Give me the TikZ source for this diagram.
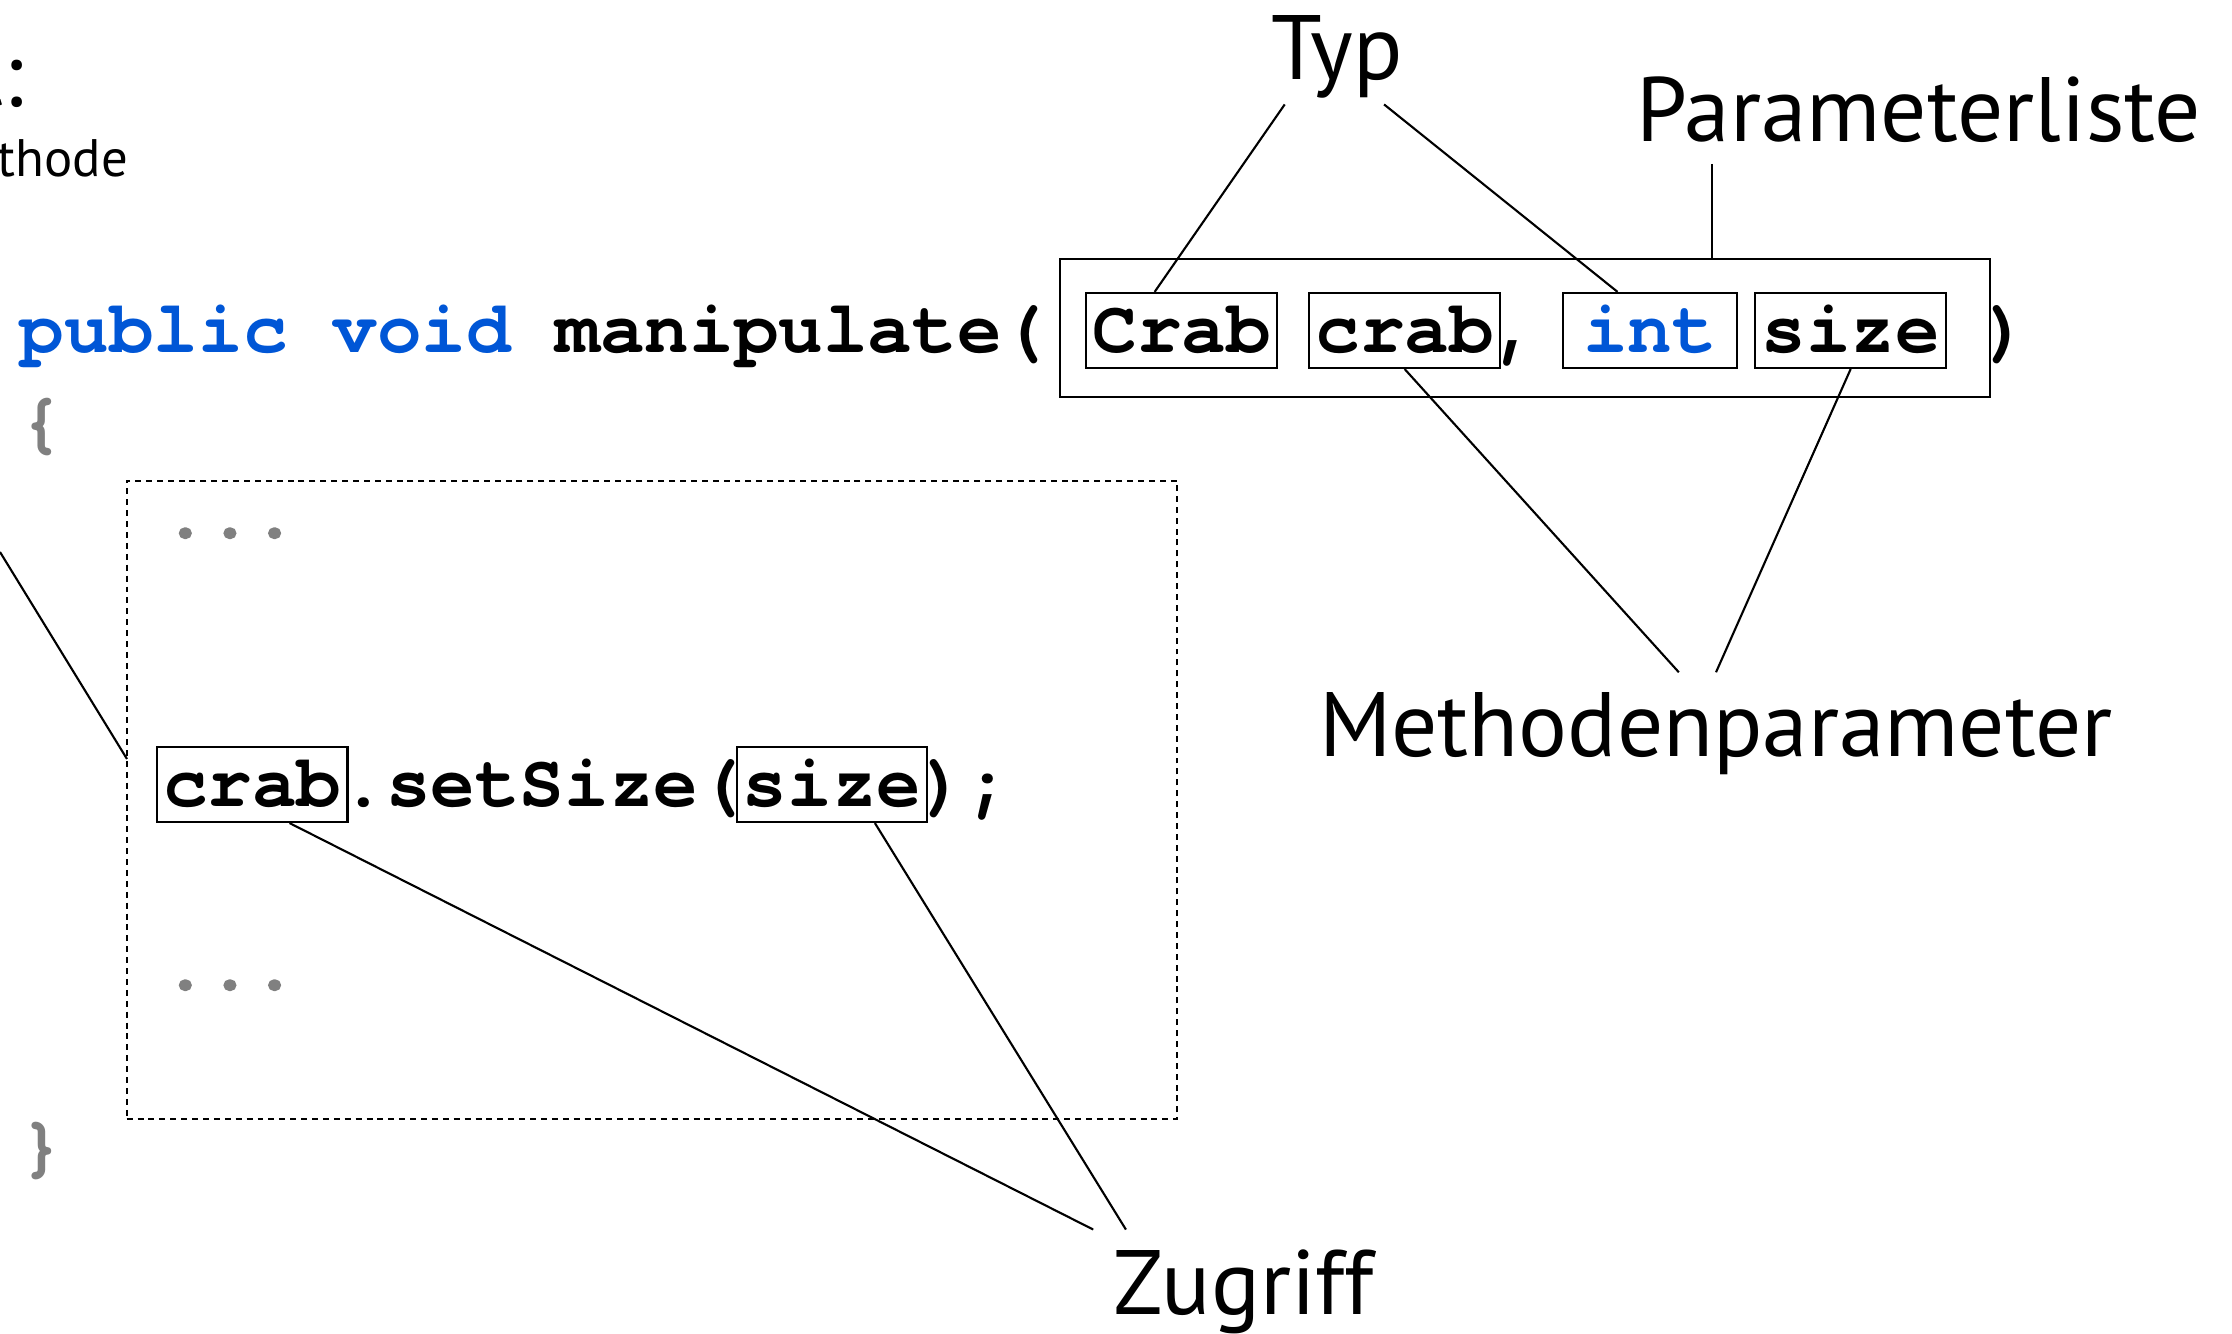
\documentclass[tikz,border=0pt]{standalone}
\usepackage{fontspec}
\usepackage{xcolor}
\usepackage{tikz}
\usetikzlibrary{positioning}
\setmainfont{PT Sans}
\newfontfamily\codefont{texgyrecursor-bold.otf}
\newfontfamily\dotfont{texgyrecursor-bold.otf}[FakeBold=2.5]
\definecolor{kwblue}{RGB}{0,86,214}
\definecolor{bracegray}{RGB}{128,128,128}
\def\cw{44.6}

\begin{document}
\begin{tikzpicture}[
      x=0.01cm, y=-0.01cm,
      code/.style={font=\codefont\fontsize{21.15pt}{24pt}\selectfont, inner sep=0pt, anchor=text},
      dots/.style={code, font=\dotfont\fontsize{21.15pt}{24pt}\selectfont, text=bracegray},
      pbox/.style={code, draw, line width=0.6pt, inner xsep=0.06cm, inner ysep=0pt, text height=0.6cm, text depth=0.15cm},
      lbl/.style={font=\fontsize{26pt}{30pt}\selectfont, inner sep=0.2cm, anchor=base},
      frame/.style={draw, line width=0.6pt},
      lnk/.style={line width=0.6pt}
    ]
    \useasboundingbox (0,0) rectangle (2232,1334);

    \node[code] (sig) at (20,353) {\textcolor{kwblue}{public void} manipulate(};
    \node[pbox] (crabT) at ({22+24*\cw},353) {Crab};
    \node[pbox] (crabP) at ({22+29*\cw},353) {crab};
    \node[code] (comma) at ({22+33*\cw},353) {,};
    \node[pbox, inner xsep=0.2cm, text=kwblue] (intT) at ({22+35*\cw},353) {int};
    \node[pbox] (sizeP) at ({22+39*\cw},353) {size};
    \node[code] (close) at ({22+44*\cw},353) {)};
    \node[frame, minimum width=9.3cm, minimum height=1.38cm] (plist) at (1525,328) {};

    \node[code, text=bracegray] (open) at (20,445) {\{};
    \node[frame, dash pattern=on 1.7pt off 1.4pt, minimum width=10.5cm, minimum height=6.38cm] (body) at (652,800) {};
    \node[dots] (dotsA) at (163,537) {...};
    \node[pbox] (crabL) at (163,807) {crab};
    \node[code] (call) at ({163+4*\cw},807) {.setSize(};
    \node[pbox] (sizeL) at ({163+13*\cw},807) {size};
    \node[code] (semi) at ({163+17*\cw},807) {);};
    \node[dots] (dotsB) at (163,989) {...};
    \node[code, text=bracegray] (shut) at (20,1169) {\}};

    \node[lbl, inner sep=0.05cm] (typ) at (1337,80) {Typ};
    \node[lbl] (plabel) at (1919,142) {Parameterliste};
    \node[lbl] (mparam) at (1716,757) {Methodenparameter};
    \node[lbl] (zug) at (1244,1315) {Zugriff};
    \node[lbl, anchor=base east, inner sep=0pt] (cut) at (24,107) {t:};
    \node[font=\fontsize{15pt}{18pt}\selectfont, inner sep=0pt, anchor=base west] (cutsub) at (-3,177) {thode};

    \coordinate (edge) at (0,552);
    \coordinate (hit) at (127,759);
    \coordinate (plfoot) at (1712,164);

    \draw[lnk] (typ.222) -- (crabT.125);
    \draw[lnk] (typ.315) -- (intT.130);
    \draw[lnk] (plfoot) -- (plfoot |- plist.north);
    \draw[lnk] (crabP.south) -- (mparam.121);
    \draw[lnk] (sizeP.south) -- (mparam.north);
    \draw[lnk] (edge) -- (hit);
    \draw[lnk] (crabL.314) -- (zug.north west);
    \draw[lnk] (sizeL.318) -- (zug.152);
  \end{tikzpicture}
\end{document}
